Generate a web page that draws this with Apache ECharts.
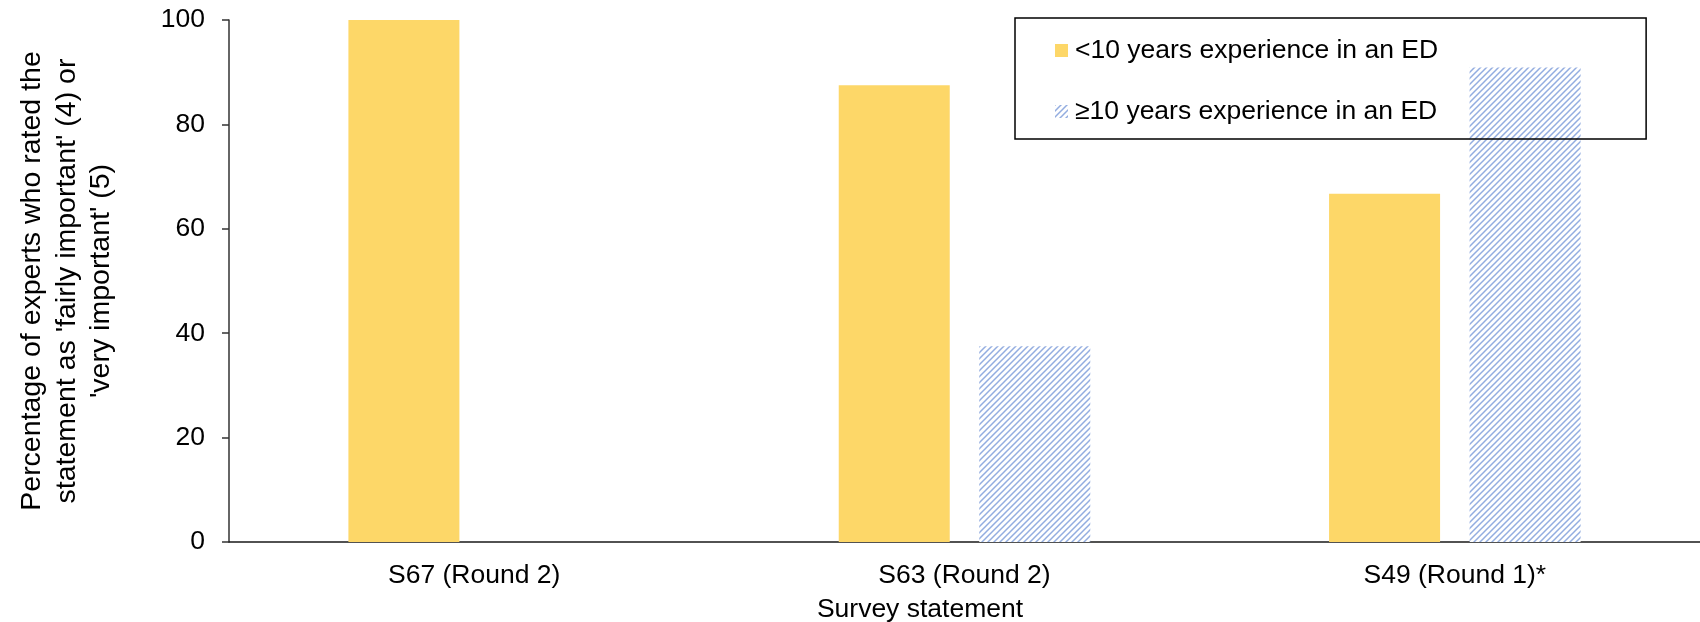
<!DOCTYPE html>
<html>
<head>
<meta charset="utf-8">
<script src="https://cdn.jsdelivr.net/npm/echarts@6/dist/echarts.min.js"></script>
<style>
  html, body { margin: 0; padding: 0; background: #fff; }
  #chart { width: 1700px; height: 622px; }
</style>
</head>
<body>
<div id="chart"></div>
<script>
// Survey statements and the share of experts rating each as important
const categories = ['S67 (Round 2)', 'S63 (Round 2)', 'S49 (Round 1)*'];
const seriesNames = ['<10 years experience in an ED', '\u226510 years experience in an ED'];
const under10Years = [100, 87.5, 66.7];
const atLeast10Years = [0, 37.5, 90.9];
const yTicks = { min: 0, max: 100, interval: 20 };

const FONT = '"Liberation Sans", Arial, sans-serif';
const FS = 26.5;

// Diagonal hatch tile for the second group
function makeHatch() {
  const s = 6;
  const c = document.createElement('canvas');
  c.width = s; c.height = s;
  const g = c.getContext('2d');
  g.fillStyle = '#ffffff';
  g.fillRect(0, 0, s, s);
  g.strokeStyle = 'rgba(120,152,216,0.8)';
  g.lineWidth = 1.5;
  g.beginPath();
  g.moveTo(-1, s + 1); g.lineTo(s + 1, -1);
  g.moveTo(-1, 1); g.lineTo(1, -1);
  g.moveTo(s - 1, s + 1); g.lineTo(s + 1, s - 1);
  g.stroke();
  return c;
}
const hatch = { image: makeHatch(), repeat: 'repeat' };

const chart = echarts.init(document.getElementById('chart'), null, { renderer: 'canvas' });

chart.setOption({
  animation: false,
  backgroundColor: '#ffffff',
  textStyle: { fontFamily: FONT },
  grid: { left: 229, top: 20, bottom: 80, right: -15, containLabel: false },
  legend: {
    orient: 'vertical',
    left: 1015,
    top: 18,
    padding: [19, 208, 14, 40],
    itemWidth: 13,
    itemHeight: 13,
    itemGap: 34,
    icon: 'rect',
    borderColor: '#000',
    borderWidth: 1.5,
    textStyle: { fontSize: FS, color: '#000', fontFamily: FONT, lineHeight: 24, padding: [0, 0, 0, 2] },
    data: seriesNames
  },
  xAxis: {
    type: 'category',
    data: categories,
    axisLine: { lineStyle: { color: '#1a1a1a', width: 1.5 } },
    axisTick: { show: false },
    axisLabel: { fontSize: FS, color: '#000', margin: 20, fontFamily: FONT }
  },
  yAxis: {
    type: 'value',
    min: yTicks.min,
    max: yTicks.max,
    interval: yTicks.interval,
    splitLine: { show: false },
    axisLine: { show: true, lineStyle: { color: '#333', width: 1.5 } },
    axisTick: { show: true, length: 7, lineStyle: { color: '#333', width: 1.5 } },
    axisLabel: { fontSize: FS, color: '#000', margin: 24, fontFamily: FONT }
  },
  graphic: [
    {
      type: 'text',
      x: 67, y: 281,
      rotation: Math.PI / 2,
      style: {
        text: "Percentage of experts who rated the\nstatement as 'fairly important' (4) or\n'very important' (5)",
        align: 'center',
        verticalAlign: 'middle',
        fontSize: 28.5,
        lineHeight: 34.5,
        fontFamily: FONT,
        fill: '#000'
      }
    },
    {
      type: 'text',
      x: 920, y: 610,
      style: {
        text: 'Survey statement',
        align: 'center',
        verticalAlign: 'middle',
        fontSize: FS,
        fontFamily: FONT,
        fill: '#000'
      }
    }
  ],
  series: [
    {
      name: seriesNames[0],
      type: 'bar',
      data: under10Years,
      barWidth: 111,
      barGap: '26.6%',
      itemStyle: { color: '#FDD768' }
    },
    {
      name: seriesNames[1],
      type: 'bar',
      data: atLeast10Years,
      barWidth: 111,
      barGap: '26.6%',
      itemStyle: { color: hatch }
    }
  ]
});
</script>
</body>
</html>
